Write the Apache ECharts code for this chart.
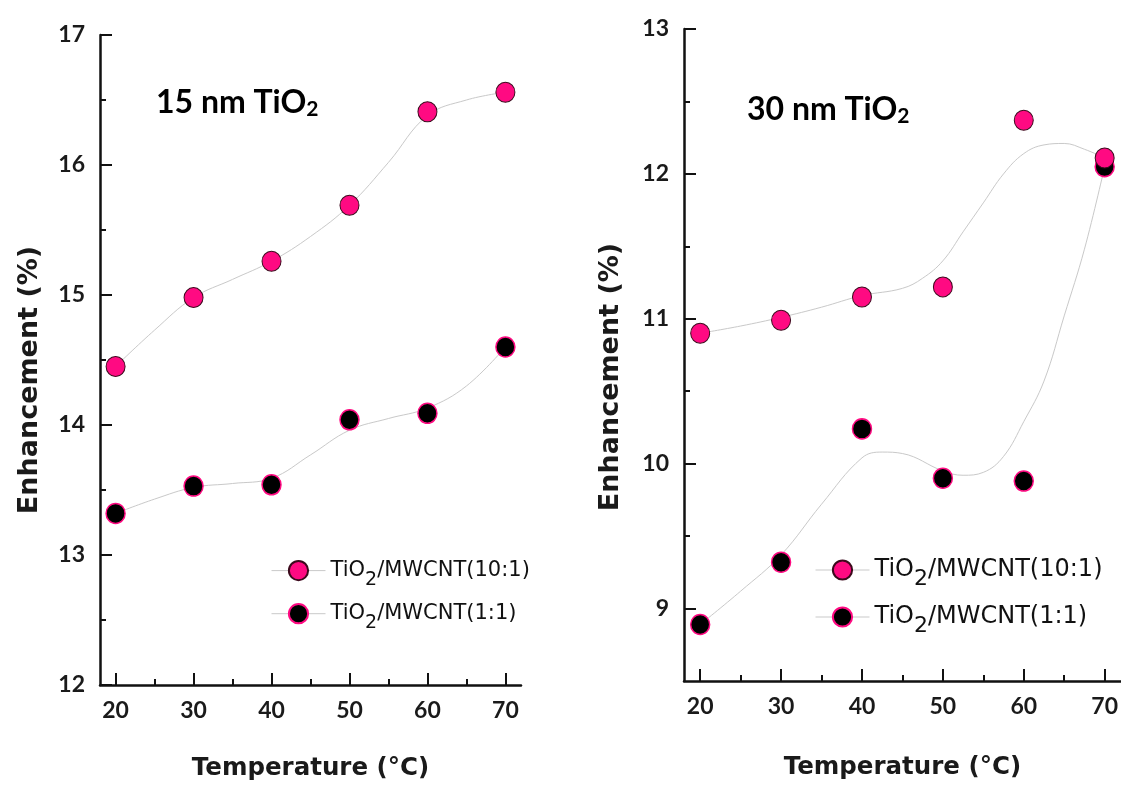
<!DOCTYPE html>
<html>
<head>
<meta charset="utf-8">
<script src="https://cdn.jsdelivr.net/npm/echarts@6/dist/echarts.min.js"></script>
<style>
  html, body { margin: 0; padding: 0; background: #fff; }
  #chart { width: 1121px; height: 787px; }
</style>
</head>
<body>
<div id="chart"></div>
<script>
// measured points
const temps = [20, 30, 40, 50, 60, 70]
const left10to1 = [14.45, 14.98, 15.26, 15.69, 16.41, 16.56]
const left1to1 = [13.32, 13.53, 13.54, 14.04, 14.09, 14.60]
const right10to1 = [10.90, 10.99, 11.15, 11.22, 12.37, 12.11]
const right1to1 = [8.89, 9.32, 10.24, 9.90, 9.88, 12.05]

// grey fitted curves
const leftFitTemps = [20, 25, 30, 35, 40, 45, 50, 55, 60, 65, 70]
const leftFit10 = [14.45, 14.73, 14.98, 15.12, 15.26, 15.45, 15.69, 16.02, 16.38, 16.50, 16.56]
const leftFit1 = [13.32, 13.43, 13.52, 13.55, 13.59, 13.77, 13.96, 14.05, 14.13, 14.30, 14.60]
const fit10Temps = [20, 25, 30, 35, 40, 45, 47.5, 50, 52.5, 55, 57.5, 60, 62.5, 65, 67.5, 70]
const fit10Vals = [10.90, 10.95, 11.01, 11.08, 11.16, 11.21, 11.28, 11.40, 11.60, 11.80, 12.00, 12.14, 12.20, 12.21, 12.17, 12.11]
const fit1Temps = [20, 25, 30, 35, 40, 42.5, 45, 50, 52.5, 55, 57.5, 60, 62.5, 65, 67.5, 70]
const fit1Vals = [8.89, 9.12, 9.37, 9.72, 10.04, 10.08, 10.07, 9.95, 9.92, 9.94, 10.05, 10.29, 10.57, 11.02, 11.48, 12.05]

// ticks
const xMajor = [20, 30, 40, 50, 60, 70]
const xMinor = [25, 35, 45, 55, 65]
const leftYMajor = [12, 13, 14, 15, 16, 17]
const leftYMinor = [12.5, 13.5, 14.5, 15.5, 16.5]
const rightYMajor = [9, 10, 11, 12, 13]
const rightYMinor = [9.5, 10.5, 11.5, 12.5]

const legendNames = {
  l10: 'TiO{sub|2}/MWCNT(10:1)',
  l1: 'TiO{sub|2}/MWCNT(1:1)',
  r10: 'TiO{sub|2}/MWCNT(10:1)',
  r1: 'TiO{sub|2}/MWCNT(1:1)'
}

const LABEL_FONT = 'Lato'
const TEXT_FONT = '"DejaVu Sans"'
const AXIS_COLOR = '#111'
const PINK = '#ff0a82'
const CURVE = '#c9c9c9'

function pairs(xs, ys) {
  return xs.map((x, i) => [x, ys[i]])
}

function majorAxis(dim, gridIndex, min, max, ticks, name, nameGap) {
  const axis = {
    type: 'value',
    gridIndex,
    min,
    max,
    position: dim === 'x' ? 'bottom' : 'left',
    axisLine: { show: true, onZero: false, lineStyle: { color: AXIS_COLOR, width: 2.5 } },
    axisTick: { show: true, inside: true, length: 12, customValues: ticks, lineStyle: { color: AXIS_COLOR, width: 2 } },
    axisLabel: {
      customValues: ticks,
      margin: dim === 'x' ? 14 : 15,
      fontSize: 23,
      fontWeight: 'bold',
      fontFamily: LABEL_FONT,
      color: '#1a1a1a'
    },
    splitLine: { show: false }
  }
  if (name) {
    axis.name = name
    axis.nameLocation = 'middle'
    axis.nameGap = nameGap
    axis.nameTextStyle = { fontFamily: TEXT_FONT, fontWeight: 'bold', fontSize: 24.5, color: '#1a1a1a' }
  }
  return axis
}

function minorAxis(dim, gridIndex, min, max, ticks) {
  return {
    type: 'value',
    gridIndex,
    min,
    max,
    position: dim === 'x' ? 'bottom' : 'left',
    axisLine: { show: false },
    axisTick: { show: true, inside: true, length: 6, customValues: ticks, lineStyle: { color: AXIS_COLOR, width: 2 } },
    axisLabel: { show: false },
    splitLine: { show: false }
  }
}

function pointSeries(name, xIdx, yIdx, data, black) {
  return {
    name,
    type: 'line',
    xAxisIndex: xIdx,
    yAxisIndex: yIdx,
    data,
    symbol: 'circle',
    symbolSize: [19, 20],
    z: 5,
    itemStyle: black
      ? { color: '#000', borderColor: PINK, borderWidth: 1.5 }
      : { color: PINK, borderColor: '#3b0a1c', borderWidth: 1 },
    lineStyle: { opacity: 0, width: 0 }
  }
}

function curveSeries(name, xIdx, yIdx, data) {
  return {
    name,
    type: 'line',
    xAxisIndex: xIdx,
    yAxisIndex: yIdx,
    data,
    smooth: 0.4,
    symbol: 'none',
    z: 2,
    lineStyle: { color: CURVE, width: 1 }
  }
}

function legendBlock(left, top, names, fontSize, gap) {
  return {
    orient: 'vertical',
    left,
    top,
    data: names,
    itemWidth: 54,
    itemHeight: 24,
    itemGap: gap,
    lineStyle: { color: CURVE, width: 1, opacity: 1 },
    formatter: name => legendNames[name],
    textStyle: {
      fontFamily: TEXT_FONT,
      fontSize,
      color: '#111',
      rich: {
        sub: { fontFamily: TEXT_FONT, fontSize: Math.round(fontSize * 0.9), color: '#111', padding: [18, 0, 0, 0] }
      }
    }
  }
}

function panelTitle(text, left, top) {
  return {
    text,
    left,
    top,
    textStyle: {
      fontFamily: 'Lato',
      fontWeight: 'bold',
      fontSize: 32,
      color: '#000',
      rich: {
        sub: { fontFamily: 'Lato', fontWeight: 'bold', fontSize: 21, color: '#000', padding: [13, 0, 0, 0] }
      }
    }
  }
}

function sideTitle(text, x, y) {
  return {
    type: 'text',
    x,
    y,
    rotation: Math.PI / 2,
    style: {
      text,
      x: 0,
      y: 0,
      align: 'center',
      verticalAlign: 'middle',
      font: 'bold 27px "DejaVu Sans"',
      fill: '#1a1a1a'
    }
  }
}

const chart = echarts.init(document.getElementById('chart'))

chart.setOption({
  animation: false,
  backgroundColor: '#fff',
  title: [
    panelTitle('15 nm TiO{sub|2}', 151, 81),
    panelTitle('30 nm TiO{sub|2}', 742, 88)
  ],
  grid: [
    { left: 100, top: 35, width: 421, height: 650 },
    { left: 684, top: 29, width: 437, height: 652 }
  ],
  xAxis: [
    majorAxis('x', 0, 18, 72, xMajor, 'Temperature (°C)', 71),
    minorAxis('x', 0, 18, 72, xMinor),
    majorAxis('x', 1, 18, 72, xMajor, 'Temperature (°C)', 74),
    minorAxis('x', 1, 18, 72, xMinor)
  ],
  yAxis: [
    majorAxis('y', 0, 12, 17, leftYMajor),
    minorAxis('y', 0, 12, 17, leftYMinor),
    majorAxis('y', 1, 8.5, 13, rightYMajor),
    minorAxis('y', 1, 8.5, 13, rightYMinor)
  ],
  legend: [
    legendBlock(266, 555, ['l10', 'l1'], 21, 14),
    legendBlock(810, 553, ['r10', 'r1'], 24, 15)
  ],
  graphic: [
    sideTitle('Enhancement (%)', 30, 380),
    sideTitle('Enhancement (%)', 611, 377)
  ],
  series: [
    curveSeries('leftFit10', 0, 0, pairs(leftFitTemps, leftFit10)),
    curveSeries('leftFit1', 0, 0, pairs(leftFitTemps, leftFit1)),
    curveSeries('fit10', 2, 2, pairs(fit10Temps, fit10Vals)),
    curveSeries('fit1', 2, 2, pairs(fit1Temps, fit1Vals)),
    pointSeries('l10', 0, 0, pairs(temps, left10to1), false),
    pointSeries('l1', 0, 0, pairs(temps, left1to1), true),
    pointSeries('r1', 2, 2, pairs(temps, right1to1), true),
    pointSeries('r10', 2, 2, pairs(temps, right10to1), false)
  ]
})

window.addEventListener('resize', () => chart.resize())
</script>
</body>
</html>
